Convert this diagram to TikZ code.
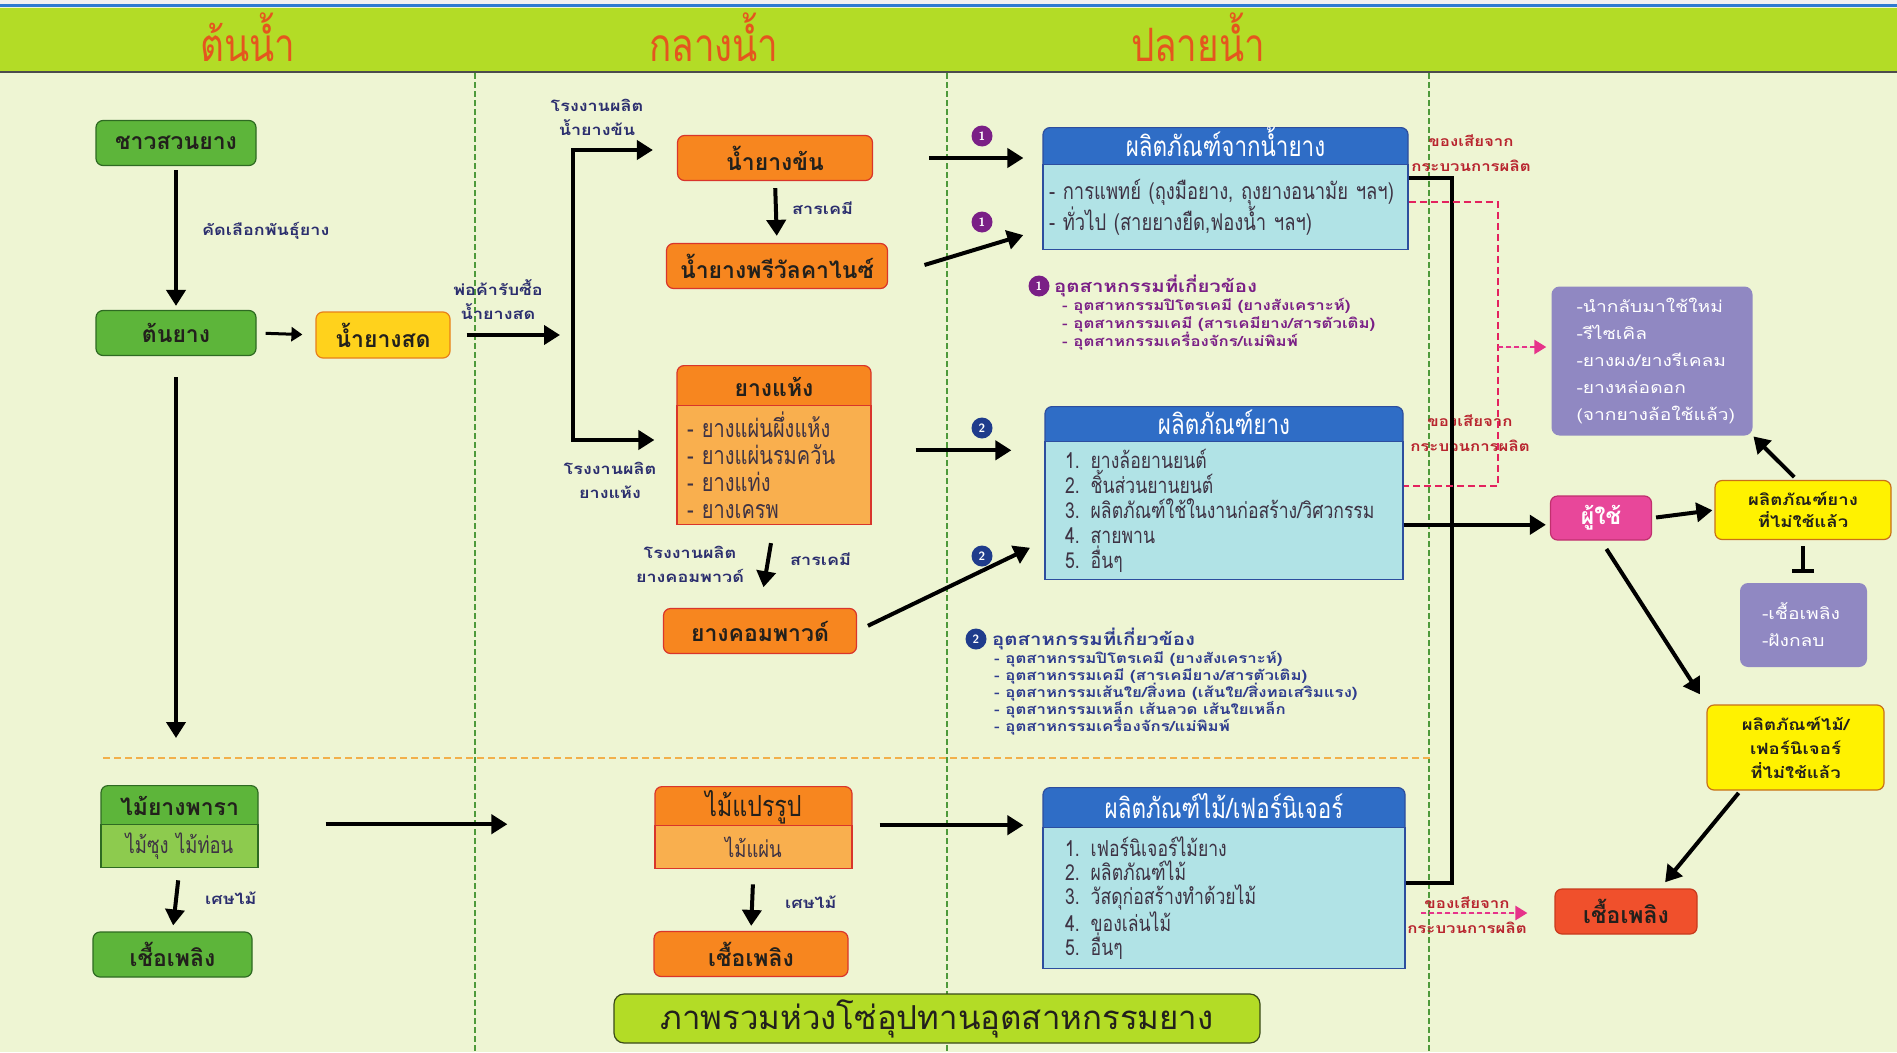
\documentclass[tikz,border=0pt]{standalone}
\usepackage{fontspec}
\usetikzlibrary{arrows.meta,positioning}
\newfontfamily\thai[Script=Thai]{Loma}
\newfontfamily\thain[Script=Thai,FakeStretch=0.8]{Loma}
\newfontfamily\thaiw[Script=Thai,FakeStretch=1.2]{Loma}
\newcommand{\setfs}[2]{\fontsize{#1}{#2}\selectfont}
\setlength{\lineskiplimit}{-100pt}
\definecolor{bgpale}{HTML}{EEF5D3}
\definecolor{bandlime}{HTML}{B3DC26}
\definecolor{topblue}{HTML}{2E7BD0}
\definecolor{headred}{HTML}{E4561E}
\definecolor{grnfill}{HTML}{5DB53A}
\definecolor{grnlite}{HTML}{8DCB4E}
\definecolor{grnline}{HTML}{2E6A22}
\definecolor{orgfill}{HTML}{F7861F}
\definecolor{orglite}{HTML}{F9AF4E}
\definecolor{orgline}{HTML}{D9352B}
\definecolor{ylwfill}{HTML}{FFD21C}
\definecolor{ylwline}{HTML}{E8801A}
\definecolor{lemon}{HTML}{FFF200}
\definecolor{lemonline}{HTML}{C8701A}
\definecolor{bluehead}{HTML}{2F6DC6}
\definecolor{blueline}{HTML}{2D4E9E}
\definecolor{cyanbody}{HTML}{B1E3E6}
\definecolor{navytxt}{HTML}{2B2E6E}
\definecolor{plum}{HTML}{7A1F86}
\definecolor{navybadge}{HTML}{1F3C8C}
\definecolor{indnavy}{HTML}{2E3C8E}
\definecolor{wastered}{HTML}{B8242E}
\definecolor{dashpink}{HTML}{E3225E}
\definecolor{arrpink}{HTML}{E6338A}
\definecolor{userpink}{HTML}{E8479A}
\definecolor{userline}{HTML}{C0306E}
\definecolor{lavender}{HTML}{9088C2}
\definecolor{fuelred}{HTML}{F0502C}
\definecolor{fuelline}{HTML}{C83A1E}
\definecolor{guidegreen}{HTML}{4E9A3A}
\definecolor{splitorg}{HTML}{F2B04A}
\definecolor{inkdark}{HTML}{22201C}
\definecolor{bodyink}{HTML}{3E3344}
\definecolor{titleline}{HTML}{3A4A1A}

\tikzset{
  box/.style={rounded corners=7pt, line width=1.2pt, inner sep=2pt, align=center,
    text=inkdark, font=\thai\bfseries\setfs{23}{26}},
  greenbox/.style={box, draw=grnline, fill=grnfill, minimum width=160pt, minimum height=45pt},
  orangebox/.style={box, draw=orgline, fill=orgfill, minimum height=45pt},
  freshbox/.style={box, draw=ylwline, fill=ylwfill, minimum width=134pt, minimum height=46pt},
  headbox/.style={box, anchor=north, text height=21pt, text depth=7pt},
  bodybox/.style={line width=1.2pt, anchor=north, align=left, inner ysep=2pt, text=bodyink},
  arr/.style={line width=4pt, -{Triangle[length=16pt,width=19pt]}},
  thinarr/.style={line width=3pt, -{Triangle[length=11pt,width=14pt]}},
  note/.style={font=\thaiw\bfseries\setfs{15}{24}, text=navytxt, align=center, inner sep=0pt},
  badge/.style={circle, inner sep=0pt, minimum size=21pt, text=white,
    font=\sffamily\bfseries\setfs{12}{12}},
  indtitle/.style={font=\thaiw\bfseries\setfs{17}{20}, inner sep=0pt},
  inditem/.style={font=\thaiw\bfseries\setfs{14}{18}, align=left, inner sep=0pt},
  waste/.style={font=\thaiw\bfseries\setfs{14}{25}, text=wastered, align=center, inner sep=0pt},
  headtxt/.style={font=\thain\setfs{46}{46}, text=headred},
  lemonbox/.style={box, draw=lemonline, fill=lemon, font=\thaiw\bfseries\setfs{15.5}{22}},
  lavbox/.style={rounded corners=8pt, fill=lavender, text=white, align=left,
    font=\thaiw\setfs{16}{27}},
  colguide/.style={draw=guidegreen, line width=1.4pt, dash pattern=on 6pt off 3pt},
  pinkdash/.style={draw=dashpink, line width=2.5pt, dash pattern=on 7pt off 4pt},
  pinkarr/.style={draw=arrpink, fill=arrpink, line width=2.5pt, dash pattern=on 5pt off 3pt,
    -{Triangle[length=12pt,width=14pt]}}
}

\begin{document}
\begin{tikzpicture}[x=1pt,y=-1pt]
\useasboundingbox (0,0) rectangle (1897,1052);
\fill[bgpale] (0,0) rectangle (1897,1052);
\fill[black!6] (0,0) rectangle (1897,4);
\fill[topblue] (0,4) rectangle (1897,6.5);
\fill[bandlime] (0,7.5) rectangle (1897,72);
\draw[line width=2pt, black!70] (0,72) -- (1897,72);
\foreach \gx in {475,947,1429}
  \draw[colguide] (\gx,73) -- (\gx,1052);
\draw[splitorg, line width=1.6pt, dash pattern=on 7pt off 4pt] (103,758) -- (1430,758);

\node[headtxt] (hUp) at (248,37) {ต้นน้ำ};
\node[headtxt] (hMid) at (714,37) {กลางน้ำ};
\node[headtxt] (hDown) at (1198,37) {ปลายน้ำ};

\node[greenbox] (farmer) at (176,143) {ชาวสวนยาง};
\node[greenbox] (tree) at (176,333) {ต้นยาง};
\node[freshbox] (fresh) at (383,335) {น้ำยางสด};
\node[note, anchor=west] (selnote) at (202,231) {คัดเลือกพันธุ์ยาง};
\node[note] (buynote) at (498,300) {พ่อค้ารับซื้อ\\น้ำยางสด};
\node[note] (cfnote) at (597,117) {โรงงานผลิต\\น้ำยางข้น};
\node[note] (dfnote) at (610,480) {โรงงานผลิต\\ยางแห้ง};

\node[orangebox, minimum width=195pt] (nyk) at (775,158) {น้ำยางข้น};
\node[note, anchor=west] (chem1) at (792,208) {สารเคมี};
\node[orangebox, minimum width=221pt] (nyp) at (777,266) {น้ำยางพรีวัลคาไนซ์};
\node[headbox, draw=orgline, fill=orgfill, minimum width=194pt, minimum height=47pt] (yhh) at (774,365) {ยางแห้ง};
\node[bodybox, draw=orgline, fill=orglite, inner xsep=10pt, text width=174pt, minimum height=119pt,
  below=-8pt of yhh, font=\thain\setfs{25}{27}] (yhb) {- ยางแผ่นผึ่งแห้ง\\- ยางแผ่นรมควัน\\- ยางแท่ง\\- ยางเครพ};
\node[note] (cpnote) at (690,564) {โรงงานผลิต\\ยางคอมพาวด์};
\node[note, anchor=west] (chem2) at (790,559) {สารเคมี};
\node[orangebox, minimum width=193pt] (ykp) at (760,631) {ยางคอมพาวด์};

\node[headbox, draw=blueline, fill=bluehead, text=white, font=\thain\setfs{28}{30}, minimum width=365pt, minimum height=44pt] (plh) at (1225.5,127) {ผลิตภัณฑ์จากน้ำยาง};
\node[bodybox, draw=blueline, fill=cyanbody, inner xsep=6pt, text width=353pt, minimum height=85pt,
  below=-8pt of plh, font=\thain\setfs{23}{31}] (plb) {- การแพทย์ (ถุงมือยาง, ถุงยางอนามัย ฯลฯ)\\- ทั่วไป (สายยางยืด,ฟองน้ำ ฯลฯ)};
\node[headbox, draw=blueline, fill=bluehead, text=white, font=\thain\setfs{28}{30}, minimum width=358pt, minimum height=42pt] (prh) at (1224,406) {ผลิตภัณฑ์ยาง};
\node[bodybox, draw=blueline, fill=cyanbody, inner xsep=20pt, text width=318pt, minimum height=138pt,
  below=-8pt of prh, font=\thain\setfs{22}{25}] (prb) {1. ยางล้อยานยนต์\\2. ชิ้นส่วนยานยนต์\\3. ผลิตภัณฑ์ใช้ในงานก่อสร้าง/วิศวกรรม\\4. สายพาน\\5. อื่นๆ};
\node[headbox, draw=blueline, fill=bluehead, text=white, font=\thain\setfs{28}{30}, minimum width=362pt, minimum height=47pt] (pwh) at (1224,787) {ผลิตภัณฑ์ไม้/เฟอร์นิเจอร์};
\node[bodybox, draw=blueline, fill=cyanbody, inner xsep=22pt, text width=318pt, minimum height=141pt,
  below=-8pt of pwh, font=\thain\setfs{22}{24}] (pwb) {1. เฟอร์นิเจอร์ไม้ยาง\\2. ผลิตภัณฑ์ไม้\\3. วัสดุก่อสร้างทำด้วยไม้\\4. ของเล่นไม้\\5. อื่นๆ};

\node[badge, fill=plum] (b1a) at (982,136) {1};
\node[badge, fill=plum] (b1b) at (982,222) {1};
\node[badge, fill=navybadge] (b2a) at (982,428) {2};
\node[badge, fill=navybadge] (b2b) at (982,556) {2};
\node[badge, fill=plum] (b1c) at (1039,286) {1};
\node[indtitle, text=plum, anchor=west] (ind1t) at (1054,286) {อุตสาหกรรมที่เกี่ยวข้อง};
\node[inditem, text=plum, anchor=west] (ind1l) at (1062,324) {- อุตสาหกรรมปิโตรเคมี (ยางสังเคราะห์)\\- อุตสาหกรรมเคมี (สารเคมียาง/สารตัวเติม)\\- อุตสาหกรรมเครื่องจักร/แม่พิมพ์};
\node[badge, fill=navybadge] (b2c) at (976,639) {2};
\node[indtitle, text=indnavy, anchor=west] (ind2t) at (992,639) {อุตสาหกรรมที่เกี่ยวข้อง};
\node[inditem, text=indnavy, anchor=west, font=\thaiw\bfseries\setfs{14}{17}] (ind2l) at (994,693) {- อุตสาหกรรมปิโตรเคมี (ยางสังเคราะห์)\\- อุตสาหกรรมเคมี (สารเคมียาง/สารตัวเติม)\\- อุตสาหกรรมเส้นใย/สิ่งทอ (เส้นใย/สิ่งทอเสริมแรง)\\- อุตสาหกรรมเหล็ก เส้นลวด เส้นใยเหล็ก\\- อุตสาหกรรมเครื่องจักร/แม่พิมพ์};

\node[waste] (w1) at (1471,153) {ของเสียจาก\\กระบวนการผลิต};
\node[waste] (w2) at (1470,433) {ของเสียจาก\\กระบวนการผลิต};
\node[waste] (w3) at (1467,915) {ของเสียจาก\\กระบวนการผลิต};

\node[box, draw=userline, fill=userpink, text=white, minimum width=101pt, minimum height=44pt] (user) at (1601,518) {ผู้ใช้};
\node[lemonbox, minimum width=176pt, minimum height=59pt] (unusedR) at (1803,510) {ผลิตภัณฑ์ยาง\\ที่ไม่ใช้แล้ว};
\node[lavbox, inner xsep=25pt, text width=151pt, minimum height=149pt] (recyc) at (1652,361) {-นำกลับมาใช้ใหม่\\-รีไซเคิล\\-ยางผง/ยางรีเคลม\\-ยางหล่อดอก\\(จากยางล้อใช้แล้ว)};
\node[lavbox, inner xsep=22pt, text width=83pt, minimum height=84pt] (burn) at (1803.5,625) {-เชื้อเพลิง\\-ฝังกลบ};
\node[lemonbox, minimum width=177pt, minimum height=85pt, font=\thaiw\bfseries\setfs{15.5}{24}] (unusedW) at (1795.5,747.5) {ผลิตภัณฑ์ไม้/\\เฟอร์นิเจอร์\\ที่ไม่ใช้แล้ว};
\node[box, draw=fuelline, fill=fuelred, minimum width=142pt, minimum height=45pt] (fuelR) at (1626,911.5) {เชื้อเพลิง};

\node[headbox, draw=grnline, fill=grnfill, minimum width=157pt, minimum height=46pt] (rwh) at (179.5,785) {ไม้ยางพารา};
\node[bodybox, draw=grnline, fill=grnlite, align=center, inner xsep=5pt, text width=147pt, minimum height=43pt,
  below=-8pt of rwh, font=\thain\setfs{23}{24}] (rwb) {ไม้ซุง ไม้ท่อน};
\node[greenbox, minimum width=159pt] (fuelG) at (172.5,954.5) {เชื้อเพลิง};
\node[note, anchor=west] (scrap1) at (205,898) {เศษไม้};
\node[headbox, draw=orgline, fill=orgfill, minimum width=197pt, minimum height=46pt, font=\thain\setfs{29}{30}] (lbh) at (753.5,786) {ไม้แปรรูป};
\node[bodybox, draw=orgline, fill=orglite, align=center, inner xsep=5pt, text width=187pt, minimum height=43pt,
  below=-8pt of lbh, font=\thain\setfs{23}{24}] (lbb) {ไม้แผ่น};
\node[orangebox, minimum width=194pt] (fuelO) at (751,954) {เชื้อเพลิง};
\node[note, anchor=west] (scrap2) at (785,902) {เศษไม้};

\node[box, draw=titleline, fill=bandlime, rounded corners=10pt, minimum width=646pt, minimum height=49pt,
  font=\thai\setfs{33}{34}] (title) at (937,1018.5) {ภาพรวมห่วงโซ่อุปทานอุตสาหกรรมยาง};

\coordinate (jn) at (573,338);
\coordinate (brT) at (573,150);
\coordinate (brB) at (573,440);
\coordinate (treeEnd) at (176,738);
\coordinate (railBot) at (1452,883);
\coordinate (dashCorner) at (1498,486);
\coordinate (dashTap) at (1498,347);
\coordinate (woodWaste) at (1421,913);

\draw[arr, shorten <=4pt, shorten >=4pt] (farmer.south) -- (tree.north);
\draw[thinarr, shorten <=9pt, shorten >=13pt] (tree.east) -- (fresh.west);
\draw[arr, shorten <=16pt, shorten >=13pt] (fresh.east) -- (fresh.east -| jn);
\draw[arr, shorten <=21pt] (tree.south) -- (treeEnd);
\draw[arr, shorten >=24pt] (brB) -- (brT) -- (brT -| nyk.west);
\draw[arr, shorten >=22pt] (brT) -- (brB) -- (brB -| yhb.west);
\draw[arr, shorten <=7pt, shorten >=7pt] (nyk.south) -- (nyp.north);
\draw[arr, shorten <=18pt, shorten >=21pt] (yhb.south) -- (ykp.north);
\draw[arr, shorten <=56pt, shorten >=19pt] (nyk.east) -- (nyk.east -| plh.west);
\draw[arr, shorten <=38pt, shorten >=20pt] ([yshift=-10pt]nyp.east) -- ([yshift=-22pt]plb.west);
\draw[arr, shorten <=44pt, shorten >=33pt] ([yshift=15pt]yhb.east) -- ([yshift=15pt]yhb.east -| prb.west);
\draw[arr, shorten <=12pt, shorten >=16pt] (ykp.east) -- ([yshift=-30pt]prb.west);

\draw[line width=4pt] ([yshift=-14pt]plb.north east) -| (railBot) -- (railBot -| pwb.east);
\draw[arr, shorten >=4pt] ([yshift=-14pt]prb.east) -- ([yshift=-14pt]prb.east -| user.west);
\draw[pinkdash] ([yshift=-38pt]plb.north east) -| (dashCorner) -- (dashCorner -| prb.east);
\draw[pinkarr, shorten >=5pt] (dashTap) -- (dashTap -| recyc.west);
\draw[pinkarr, shorten >=27pt] (woodWaste) -- (woodWaste -| fuelR.west);

\draw[arr, shorten <=4pt, shorten >=2pt] (user.east) -- (unusedR.west);
\draw[arr, shorten <=4pt, shorten >=1pt] ([xshift=-6pt]unusedR.north) -- (recyc.south east);
\draw[line width=3.5pt, -{Bar[width=22pt,line width=3.5pt]}, shorten <=6pt, shorten >=10pt] (unusedR.south) -- (unusedR.south |- burn.north);
\draw[arr, shorten <=10pt, shorten >=12pt] (user.south) -- (unusedW.north west);
\draw[arr, shorten <=3pt, shorten >=8pt] ([xshift=-55pt]unusedW.south) -- ([xshift=34pt]fuelR.north);

\draw[arr, shorten <=12pt, shorten >=6pt] (rwb.south) -- (fuelG.north);
\draw[arr, shorten <=67pt, shorten >=147pt] (rwb.north east) -- (rwb.north east -| lbh.west);
\draw[arr, shorten <=15pt, shorten >=5pt] (lbb.south) -- (fuelO.north);
\draw[arr, shorten <=27pt, shorten >=19pt] (lbb.north east) -- (lbb.north east -| pwh.west);
\end{tikzpicture}
\end{document}
